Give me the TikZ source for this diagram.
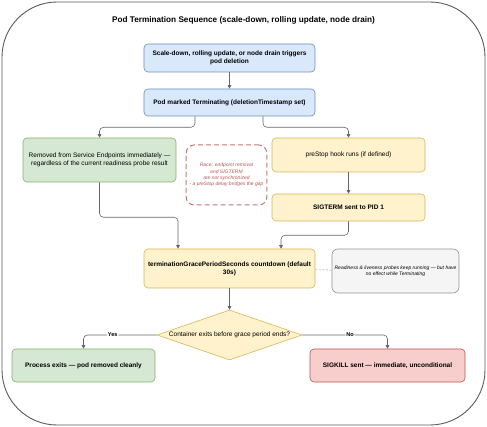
\documentclass[tikz,border=0pt]{standalone}
\usepackage{fontspec}
\setmainfont{Liberation Sans}
\usetikzlibrary{shapes.geometric,arrows.meta}

\definecolor{blueFill}{HTML}{DAE8FC}
\definecolor{blueLine}{HTML}{6C8EBF}
\definecolor{greenFill}{HTML}{D5E8D4}
\definecolor{greenLine}{HTML}{82B366}
\definecolor{yellowFill}{HTML}{FFF2CC}
\definecolor{yellowLine}{HTML}{D6B656}
\definecolor{redFill}{HTML}{F8CECC}
\definecolor{redLine}{HTML}{B85450}
\definecolor{greyFill}{HTML}{F5F5F5}
\definecolor{greyLine}{HTML}{666666}
\definecolor{frameLine}{HTML}{5A5A5A}

\tikzset{
  box/.style={draw, rounded corners=4pt, align=center, line width=0.6pt, inner sep=2pt,
    font=\fontsize{6.5}{8}\selectfont},
  boldbox/.style={font=\fontsize{6.5}{8}\selectfont\bfseries},
  bluebox/.style={box, fill=blueFill, draw=blueLine},
  greenbox/.style={box, fill=greenFill, draw=greenLine},
  yellowbox/.style={box, fill=yellowFill, draw=yellowLine},
  redbox/.style={box, fill=redFill, draw=redLine},
  notebox/.style={box, fill=greyFill, draw=greyLine!70, rounded corners=6pt,
    font=\fontsize{5}{6.2}\selectfont\itshape},
  racebox/.style={draw=redLine!80, dashed, dash pattern=on 5pt off 3pt, line width=1pt,
    rounded corners=8pt, align=center, text=redLine, font=\fontsize{5}{6.2}\selectfont\itshape},
  decision/.style={diamond, draw=yellowLine, fill=yellowFill, line width=0.6pt, aspect=2.9,
    inner sep=0pt, align=center, font=\fontsize{6.5}{8}\selectfont},
  flow/.style={draw=greyLine, line width=0.6pt, rounded corners=4pt,
    -{Triangle[length=3.5pt,width=3.5pt]}},
  lbl/.style={fill=white, inner sep=1pt, font=\fontsize{5.6}{7}\selectfont\bfseries},
}

\begin{document}
\begin{tikzpicture}[x=1pt, y=-1pt]
    \useasboundingbox (0,0) rectangle (487,427);
    % Rahmen
    \node[draw=frameLine, line width=0.9pt, rounded corners=55pt,
      minimum width=483pt, minimum height=423pt] (frame) at (243.5,213.5) {};
    \node[font=\fontsize{8.2}{10}\selectfont\bfseries] (title) at (243.5,20)
      {Pod Termination Sequence (scale-down, rolling update, node drain)};
    % Start
    \node[bluebox, boldbox, minimum width=171pt, minimum height=28pt]
      (trigger) at (229.5,58) {Scale-down, rolling update, or node drain triggers\\pod deletion};
    \node[bluebox, boldbox, minimum width=171pt, minimum height=27pt]
      (marked) at (229.5,102.5) {Pod marked Terminating (deletionTimestamp set)};
    % Zwei parallele Zweige
    \node[greenbox, minimum width=153pt, minimum height=44pt] (endpoints) at (99.5,160)
      {Removed from Service Endpoints immediately —\\regardless of the current readiness probe result};
    \node[racebox, minimum width=77pt, minimum height=60pt] (race) at (226.5,175)
      {Race: endpoint removal\\and SIGTERM\\are not synchronized\\- a preStop delay bridges the gap};
    \node[yellowbox, minimum width=153pt, minimum height=34pt] (prestop) at (348.5,155)
      {preStop hook runs (if defined)};
    \node[yellowbox, boldbox, minimum width=153pt, minimum height=27pt]
      (sigterm) at (348.5,207.5) {SIGTERM sent to PID 1};
    % Countdown
    \node[yellowbox, boldbox, minimum width=171pt, minimum height=39pt]
      (grace) at (229.5,268.5) {terminationGracePeriodSeconds countdown (default\\30s)};
    \node[notebox, minimum width=127pt, minimum height=44pt] (probes) at (395.5,271)
      {Readiness \& liveness probes keep running — but have\\no effect while Terminating};
    % Entscheidung
    \node[decision, minimum width=145pt, minimum height=50pt] (exits) at (229.5,335)
      {Container exits before grace period ends?};
    \node[greenbox, boldbox, minimum width=143pt, minimum height=33pt]
      (clean) at (83.5,365.5) {Process exits — pod removed cleanly};
    \node[redbox, boldbox, minimum width=155pt, minimum height=33pt]
      (sigkill) at (387.5,365.5) {SIGKILL sent — immediate, unconditional};

    % Verbindungen
    \draw[flow] (trigger) -- (marked);
    \draw[flow] ([xshift=-34.5pt]marked.south) -- ++(0,11) -| (endpoints.north);
    \draw[flow] ([xshift=33.5pt]marked.south) -- ++(0,11) -| (prestop.north);
    \draw[flow] (prestop) -- (sigterm);
    \draw[flow] (endpoints.south) -- ++(0,35) -| ([xshift=-51.5pt]grace.north);
    \draw[flow] (sigterm.south) -- ++(0,14) -| ([xshift=51.5pt]grace.north);
    \draw[draw=greyLine!70, line width=0.5pt, dashed, dash pattern=on 2pt off 1.5pt] (grace) -- (probes);
    \draw[flow] (grace) -- (exits);
    \draw[flow] (exits.west) -| node[lbl, pos=0.3] {Yes} (clean.north);
    \draw[flow] (exits.east) -| node[lbl, pos=0.28] {No} (sigkill.north);
\end{tikzpicture}
\end{document}
